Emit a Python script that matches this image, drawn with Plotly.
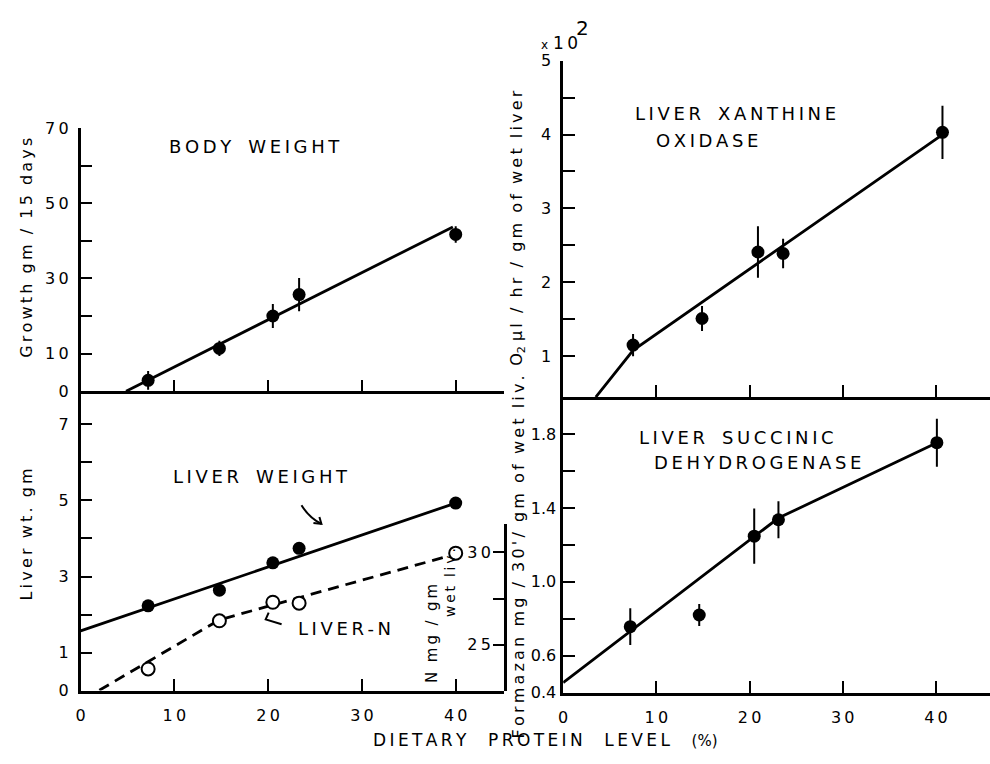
import plotly.graph_objects as go

W, H = 990, 764

# ---------------- data ----------------
# Body weight (top-left)
bw_x = [7.2, 14.8, 20.5, 23.3, 40.0]
bw_y = [2.9, 11.4, 20.0, 25.7, 41.7]
bw_err = [2.5, 2.0, 3.2, 4.4, 2.2]
bw_fit_x = [4.85, 39.7]
bw_fit_y = [0.0, 43.7]

# Liver weight (bottom-left, left axis)
lw_x = [7.2, 14.8, 20.5, 23.3, 40.0]
lw_y = [2.23, 2.64, 3.36, 3.74, 4.93]
lw_fit_x = [0.0, 40.0]
lw_fit_y = [1.57, 4.93]

# Liver-N (bottom-left, right axis)
ln_x = [7.2, 14.8, 20.5, 23.3, 40.0]
ln_y = [23.7, 26.3, 27.3, 27.25, 29.95]
ln_fit_x = [2.0, 14.8, 40.0]
ln_fit_y = [22.55, 26.35, 29.9]

# Liver xanthine oxidase (top-right)
xo_x = [7.5, 14.9, 20.9, 23.6, 40.7]
xo_y = [1.15, 1.51, 2.41, 2.39, 4.03]
xo_err = [0.15, 0.17, 0.35, 0.20, 0.36]
xo_fit_x = [3.5, 7.5, 40.7]
xo_fit_y = [0.446, 1.08, 4.0]

# Liver succinic dehydrogenase (bottom-right)
sd_x = [7.2, 14.6, 20.5, 23.1, 40.1]
sd_y = [0.757, 0.82, 1.247, 1.336, 1.753]
sd_err = [0.10, 0.06, 0.15, 0.10, 0.13]
sd_fit_x = [0.0, 23.1, 40.1]
sd_fit_y = [0.454, 1.345, 1.753]

# ticks
x_ticks = [0, 10, 20, 30, 40]
x_ticklabels = ["0", "10", "20", "30", "40"]
bw_ticks = [0, 10, 20, 30, 40, 50, 60, 70]
bw_ticklabels = ["0", "10", "", "30", "", "50", "", "70"]
lw_ticks = [0, 1, 2, 3, 4, 5, 6, 7]
lw_ticklabels = ["0", "1", "", "3", "", "5", "", "7"]
ln_ticks = [25, 27.5, 30]
ln_ticklabels = ["25", "", "30"]
xo_ticks = [1, 1.5, 2, 2.5, 3, 3.5, 4, 4.5, 5]
xo_ticklabels = ["1", "", "2", "", "3", "", "4", "", "5"]
sd_ticks = [0.4, 0.6, 0.8, 1.0, 1.2, 1.4, 1.6, 1.8]
sd_ticklabels = ["0.4", "0.6", "", "1.0", "", "1.4", "", "1.8"]

FONT = "DejaVu Sans"


def fx(px):
    return px / W


def fy(py):
    return 1 - py / H


def spaced(s, gap="\u2009", word="\u00a0\u00a0"):
    return word.join(gap.join(w) for w in s.split(" ") if w)


def tl(labels):
    return [spaced(t) for t in labels]


fig = go.Figure()

mk = dict(color="black", size=13, line=dict(width=0))
eb = lambda arr: dict(type="data", array=arr, color="black", thickness=2, width=0)
fitline = dict(color="black", width=2.8)

# top-left
fig.add_trace(go.Scatter(x=bw_fit_x, y=bw_fit_y, mode="lines", line=fitline, xaxis="x", yaxis="y"))
fig.add_trace(go.Scatter(x=bw_x, y=bw_y, mode="markers", marker=mk, error_y=eb(bw_err), xaxis="x", yaxis="y"))
# bottom-left
fig.add_trace(go.Scatter(x=lw_fit_x, y=lw_fit_y, mode="lines", line=fitline, xaxis="x2", yaxis="y2"))
fig.add_trace(go.Scatter(x=lw_x, y=lw_y, mode="markers", marker=mk, xaxis="x2", yaxis="y2"))
fig.add_trace(go.Scatter(x=ln_fit_x, y=ln_fit_y, mode="lines",
                         line=dict(color="black", width=2.8, dash="11px,7px"), xaxis="x3", yaxis="y3"))
fig.add_trace(go.Scatter(x=ln_x, y=ln_y, mode="markers",
                         marker=dict(color="white", size=13, line=dict(color="black", width=2)),
                         xaxis="x3", yaxis="y3", cliponaxis=False))
# top-right
fig.add_trace(go.Scatter(x=xo_fit_x, y=xo_fit_y, mode="lines", line=fitline, xaxis="x4", yaxis="y4"))
fig.add_trace(go.Scatter(x=xo_x, y=xo_y, mode="markers", marker=mk, error_y=eb(xo_err), xaxis="x4", yaxis="y4"))
# bottom-right
fig.add_trace(go.Scatter(x=sd_fit_x, y=sd_fit_y, mode="lines", line=fitline, xaxis="x5", yaxis="y5"))
fig.add_trace(go.Scatter(x=sd_x, y=sd_y, mode="markers", marker=mk, error_y=eb(sd_err), xaxis="x5", yaxis="y5"))

ax = dict(showgrid=False, zeroline=False, showline=True, linecolor="black", linewidth=2.5,
          ticks="inside", tickcolor="black", tickwidth=2.2, ticklen=12,
          tickfont=dict(family=FONT, size=16, color="black"), fixedrange=True)

LX = [fx(76), fx(502)]
RX = [fx(561), 1.0]
LXR = [0, 45.2]
RXR = [0, 45.8]

fig.update_layout(
    width=W, height=H, margin=dict(l=0, r=0, t=0, b=0),
    paper_bgcolor="white", plot_bgcolor="rgba(0,0,0,0)", showlegend=False,
    font=dict(family=FONT, color="black"),
    xaxis=dict(ax, domain=LX, range=LXR, anchor="y", tickvals=[10, 20, 30, 40], showticklabels=False),
    yaxis=dict(ax, domain=[fy(392), fy(122)], range=[0, 70], anchor="x",
               tickvals=bw_ticks, ticktext=tl(bw_ticklabels), ticklabelstandoff=6),
    xaxis2=dict(ax, domain=LX, range=LXR, anchor="y2", tickvals=x_ticks, ticktext=tl(x_ticklabels),
                ticklabelstandoff=8),
    yaxis2=dict(ax, domain=[fy(699), fy(392)], range=[0, 7.87], anchor="x2",
                tickvals=lw_ticks, ticktext=tl(lw_ticklabels), ticklabelstandoff=6),
    xaxis3=dict(domain=LX, range=LXR, anchor="y3", visible=False, fixedrange=True),
    yaxis3=dict(ax, domain=[fy(699), fy(528)], range=[22.53, 31.53], anchor="x3", side="right",
                ticklabelposition="inside", tickvals=ln_ticks, ticktext=tl(ln_ticklabels),
                ticklabelstandoff=2),
    xaxis4=dict(ax, domain=RX, range=RXR, anchor="y4", tickvals=[10, 20, 30, 40], showticklabels=False),
    yaxis4=dict(ax, domain=[fy(398), fy(53)], range=[0.446, 5.0], anchor="x4",
                tickvals=xo_ticks, ticktext=tl(xo_ticklabels), ticklabelstandoff=6),
    xaxis5=dict(ax, domain=RX, range=RXR, anchor="y5", tickvals=x_ticks, ticktext=tl(x_ticklabels),
                ticklabelstandoff=8),
    yaxis5=dict(ax, domain=[fy(701), fy(398)], range=[0.4, 2.0], anchor="x5",
                tickvals=sd_ticks, ticktext=sd_ticklabels, ticklabelstandoff=1),
)

ann = []


def text(s, px, py, size=17, angle=0):
    ann.append(dict(text=s, x=fx(px), y=fy(py), xref="paper", yref="paper", showarrow=False,
                    xanchor="center", yanchor="middle", textangle=angle,
                    font=dict(family=FONT, size=size, color="black")))


text(spaced("BODY WEIGHT", word="\u00a0\u00a0\u00a0"), 251, 141, 18)
text(spaced("LIVER WEIGHT", word="\u00a0\u00a0\u00a0"), 257, 479, 18)
text(spaced("LIVER-N"), 341, 635, 18)
text(spaced("LIVER XANTHINE", word="\u00a0\u00a0\u00a0"), 734, 107, 18)
text(spaced("OXIDASE"), 706, 135, 18)
text(spaced("LIVER SUCCINIC", word="\u00a0\u00a0\u00a0"), 735, 439, 18)
text(spaced("DEHYDROGENASE"), 756, 465, 18)
text(spaced("DIETARY PROTEIN LEVEL", word="\u00a0\u00a0\u00a0\u00a0") +
     "\u00a0\u00a0\u00a0\u00a0<span style='font-size:15px'>(%)</span>", 543, 750, 17)

text(spaced("Growth gm / 15 days"), 22, 245, 16, -90)
text(spaced("Liver wt. gm"), 22, 539, 16, -90)
text("O<sub>2</sub>\u00a0" + spaced("μl / hr / gm of wet liver"), 515, 224, 16, -90)
text(spaced("Formazan mg / 30'/ gm of wet liv."), 516, 562, 16, -90)
text(spaced("N mg / gm"), 429, 640, 15, -90)
text(spaced("wet liv."), 448, 588, 14, -90)
text("x", 542, 37, 12)
text("1\u20090", 563, 35, 17)
text("2", 580, 19, 20)

# hand-drawn pointer arrows
def P(px, py):
    return f"{fx(px):.5f},{fy(py):.5f}"

shapes = [
    dict(type="path", xref="paper", yref="paper",
         path=f"M {P(298, 509)} Q {P(306, 522)} {P(318, 528)}",
         line=dict(color="black", width=2)),
    dict(type="path", xref="paper", yref="paper",
         path=f"M {P(316, 521)} L {P(318, 528)} L {P(310, 527)}",
         line=dict(color="black", width=2)),
    dict(type="path", xref="paper", yref="paper",
         path=f"M {P(278, 631)} L {P(262, 626)} L {P(265, 619)}",
         line=dict(color="black", width=2)),
]

fig.update_layout(annotations=ann, shapes=shapes)
fig.write_html("out.html")
